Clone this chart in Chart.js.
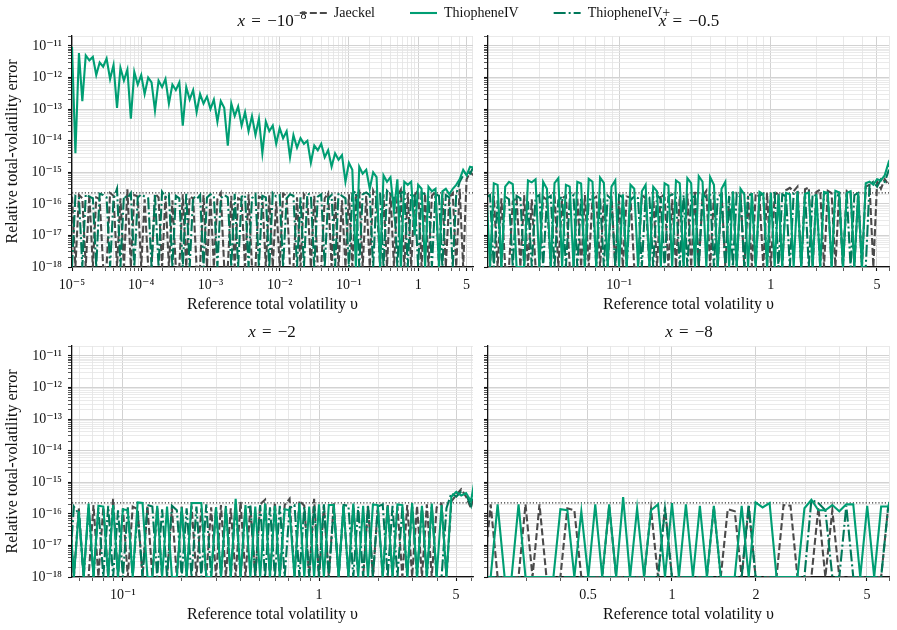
<!DOCTYPE html>
<html>
<head>
<meta charset="utf-8">
<script src="https://cdn.jsdelivr.net/npm/chart.js@4.4.1/dist/chart.umd.min.js"></script>
<style>
  body { margin: 0; background: #fff; width: 897px; height: 630px; position: relative; overflow: hidden;
         font-family: "Liberation Serif", serif; color: #111; }
  .box { position: absolute; }
  .ttl { position: absolute; font-size: 17px; line-height: 20px; transform: translateX(-50%); white-space: nowrap; word-spacing: 2px; }
  .ttl sup { font-size: 70%; line-height: 0; }
</style>
</head>
<body>
<div class="box" style="left:0;top:0;width:480px;height:320px"><canvas id="c0"></canvas></div>
<div class="box" style="left:480px;top:0;width:417px;height:320px"><canvas id="c1"></canvas></div>
<div class="box" style="left:0;top:320px;width:480px;height:310px"><canvas id="c2"></canvas></div>
<div class="box" style="left:480px;top:320px;width:417px;height:310px"><canvas id="c3"></canvas></div>
<div class="ttl" style="left:272px;top:11px"><i>x</i> = −10<sup>−8</sup></div>
<div class="ttl" style="left:689px;top:11px"><i>x</i> = −0.5</div>
<div class="ttl" style="left:272px;top:322px"><i>x</i> = −2</div>
<div class="ttl" style="left:689px;top:322px"><i>x</i> = −8</div>
<div class="box" style="left:135px;top:-29px;width:700px;height:200px;pointer-events:none"><canvas id="cleg"></canvas></div>
<script>
// ---- axes ----
const Y_MIN = 1e-18;
const Y_MAX = 2.07e-11;
const EPS = 2.22e-16;
const yTickValues = [1e-18, 1e-17, 1e-16, 1e-15, 1e-14, 1e-13, 1e-12, 1e-11];
const yTickLabels = ['10⁻¹⁸', '10⁻¹⁷', '10⁻¹⁶', '10⁻¹⁵', '10⁻¹⁴', '10⁻¹³', '10⁻¹²', '10⁻¹¹'];

const xTicks1 = [1e-5, 1e-4, 1e-3, 1e-2, 0.1, 1, 5];
const xLabels1 = ['10⁻⁵', '10⁻⁴', '10⁻³', '10⁻²', '10⁻¹', '1', '5'];
const xTicks2 = [0.1, 1, 5];
const xLabels2 = ['10⁻¹', '1', '5'];
const xTicks4 = [0.5, 1, 2, 5];
const xLabels4 = ['0.5', '1', '2', '5'];
const xMins = [1e-5, 0.0137, 0.055, 0.219];
const xMaxs = [6.2, 6.0, 6.1, 6.0];

const seriesNames = ['Jaeckel', 'ThiopheneIV', 'ThiopheneIV+'];

// ---- sample grids (reference total volatility) ----
const v1 = [
  1e-5,1.12e-5,1.26e-5,1.41e-5,1.58e-5,1.78e-5,2e-5,2.24e-5,2.51e-5,2.82e-5,3.16e-5,3.55e-5,3.98e-5,4.47e-5,5.01e-5,5.62e-5,6.31e-5,7.08e-5,7.94e-5,8.91e-5,
  1e-4,1.12e-4,1.26e-4,1.41e-4,1.58e-4,1.78e-4,2e-4,2.24e-4,2.51e-4,2.82e-4,3.16e-4,3.55e-4,3.98e-4,4.47e-4,5.01e-4,5.62e-4,6.31e-4,7.08e-4,7.94e-4,8.91e-4,
  1e-3,1.12e-3,1.26e-3,1.41e-3,1.58e-3,1.78e-3,2e-3,2.24e-3,2.51e-3,2.82e-3,3.16e-3,3.55e-3,3.98e-3,4.47e-3,5.01e-3,5.62e-3,6.31e-3,7.08e-3,7.94e-3,8.91e-3,
  0.01,0.0112,0.0126,0.0141,0.0158,0.0178,0.02,0.0224,0.0251,0.0282,0.0316,0.0355,0.0398,0.0447,0.0501,0.0562,0.0631,0.0708,0.0794,0.0891,
  0.1,0.112,0.126,0.141,0.158,0.178,0.2,0.224,0.251,0.282,0.316,0.355,0.398,0.447,0.501,0.562,0.631,0.708,0.794,0.891,
  1,1.12,1.26,1.41,1.58,1.78,2,2.24,2.51,2.82,3.16,3.55,3.98,4.47,5.01,5.62,6.31
];
const vGrid = [
  0.01334,0.01413,0.01496,0.01585,0.01679,0.01778,0.01884,0.01995,0.02113,0.02239,0.02371,0.02512,0.02661,0.02818,0.02985,0.03162,0.0335,0.03548,0.03758,0.03981,
  0.04217,0.04467,0.04732,0.05012,0.05309,0.05623,0.05957,0.0631,0.06683,0.07079,0.07499,0.07943,0.08414,0.08913,0.09441,
  0.1,0.1059,0.1122,0.1189,0.1259,0.1334,0.1413,0.1496,0.1585,0.1679,0.1778,0.1884,0.1995,0.2113,0.2239,0.2371,0.2512,0.2661,0.2818,0.2985,
  0.3162,0.335,0.3548,0.3758,0.3981,0.4217,0.4467,0.4732,0.5012,0.5309,0.5623,0.5957,0.631,0.6683,0.7079,0.7499,0.7943,0.8414,0.8913,0.9441,
  1,1.059,1.122,1.189,1.259,1.334,1.413,1.496,1.585,1.679,1.778,1.884,1.995,2.113,2.239,2.371,2.512,2.661,2.818,2.985,
  3.162,3.35,3.548,3.758,3.981,4.217,4.467,4.732,5.012,5.309,5.623,5.957,6.31
];
const v2 = vGrid;
const v3 = vGrid.slice(24);
const v4 = vGrid.slice(48);

// ---- x = -1e-8 ----
const jaeckel1 = [
  1.7e-16,0,1.9e-16,1.5e-16,0,2e-16,0,1.6e-16,1.4e-16,0,
  0,2.2e-16,1.8e-16,0,1.5e-16,0,2.9e-16,0,1.9e-16,1.7e-16,
  0,1.4e-16,0,0,2.1e-16,1.6e-16,0,1.8e-16,0,1.3e-16,
  0,0,2e-16,0,1.7e-16,1.5e-16,0,0,1.9e-16,0,
  1.6e-16,0,1.4e-16,2.2e-16,0,0,1.8e-16,0,1.5e-16,1.3e-16,
  0,2e-16,0,0,1.7e-16,1.5e-16,0,1.9e-16,0,1.2e-16,
  0,2.1e-16,1.8e-16,0,0,1.6e-16,0,2e-16,1.4e-16,0,
  1.8e-16,0,0,1.5e-16,2.2e-16,0,1.7e-16,0,1.3e-16,0,
  2e-16,0,1.6e-16,2.4e-16,0,1.8e-16,0,2.6e-16,1.5e-16,0,
  2e-16,0,2.3e-16,0,1.7e-16,2.8e-16,0,2.2e-16,0,1.9e-16,
  2.7e-16,0,2.1e-16,0,1.8e-16,2.4e-16,0,2e-16,0,1.6e-16,
  2.2e-16,0,3e-16,0,6e-16,1e-15,8e-16
];
const thio1 = [
  9.5e-12,4e-15,6e-12,1.8e-13,5e-12,3.5e-12,4.5e-12,1.2e-12,3e-12,2.2e-12,
  4e-12,9e-13,2.5e-12,1.1e-13,2e-12,8e-13,1.8e-12,5e-14,1.5e-12,6e-13,
  1.2e-12,3e-13,1e-12,7e-13,9e-14,8e-13,5e-13,9e-13,1.5e-13,6e-13,
  4e-13,7e-13,3e-14,5e-13,2e-13,4e-13,8e-14,3e-13,1.5e-13,2.5e-13,
  1e-13,2e-13,4e-14,1.8e-13,1.1e-13,7e-15,1.5e-13,6e-14,1.2e-13,3e-14,
  8e-14,2e-14,6e-14,1.5e-14,5e-14,4e-15,4e-14,2e-14,3e-14,8e-15,
  2.5e-14,1.2e-14,2e-14,3e-15,1.5e-14,6e-15,1.2e-14,8e-15,1e-14,2e-15,
  7e-15,5e-15,8e-15,3e-15,5e-15,1.5e-15,4e-15,2.5e-15,3.5e-15,5e-16,
  2e-15,1.2e-15,0,1.5e-15,9e-16,1.2e-15,3e-16,1e-15,7e-16,0,
  8e-16,5e-16,7e-16,6e-17,6e-16,0,5e-16,4e-16,5e-16,1e-17,
  4e-16,3e-16,0,3.5e-16,2.5e-16,3e-16,0,2.5e-16,3e-16,2e-16,
  3e-16,4e-16,6e-16,1.2e-15,8e-16,1.5e-15,1.4e-15
];
const thioPlus1 = [
  0,1.8e-16,1.6e-16,0,2e-16,1.7e-16,1.5e-16,0,2.1e-16,1.9e-16,
  1.6e-16,0,1.4e-16,3e-16,0,1.8e-16,1.5e-16,2.2e-16,0,1.6e-16,
  2e-16,1.7e-16,1.5e-16,0,1.9e-16,0,2.4e-16,1.6e-16,2e-16,0,
  1.8e-16,1.5e-16,0,2.1e-16,0,1.7e-16,1.4e-16,1.9e-16,0,1.6e-16,
  2e-16,1.8e-16,0,1.5e-16,1.9e-16,1.6e-16,0,2.1e-16,0,1.7e-16,
  1.9e-16,0,1.5e-16,2e-16,0,1.8e-16,1.6e-16,0,2.2e-16,1.7e-16,
  1.9e-16,0,1.5e-16,2e-16,1.8e-16,0,1.6e-16,0,2.1e-16,1.9e-16,
  0,1.7e-16,2e-16,0,1.5e-16,1.9e-16,0,2.2e-16,1.8e-16,1.5e-16,
  0,2.1e-16,2.5e-16,0,2e-16,2.3e-16,1.9e-16,0,2.4e-16,2.1e-16,
  0,2.6e-16,2e-16,1.8e-16,0,2.2e-16,2.5e-16,0,2.1e-16,1.8e-16,
  0,2.3e-16,2e-16,1.7e-16,0,2e-16,1.8e-16,0,1.9e-16,1.6e-16,
  0,2e-16,5e-16,8e-16,1.1e-15,9e-16,1.5e-15
];

// ---- x = -0.5 ----
const jaeckel2 = [
  0,0,1.8e-16,0,1.5e-16,0,0,1.2e-16,1.6e-16,0,
  1.9e-16,0,1.4e-16,0,0,1.7e-16,1.3e-16,0,2e-16,0,
  1.5e-16,1.8e-16,0,0,1.6e-16,0,1.9e-16,0,1.4e-16,1.7e-16,
  0,1.5e-16,0,1.8e-16,0,1.3e-16,0,1.7e-16,1.6e-16,0,
  0,1.9e-16,1.5e-16,0,1.8e-16,0,2e-16,1.6e-16,0,1.4e-16,
  0,1.8e-16,0,2.1e-16,0,2.4e-16,0,1.7e-16,2.6e-16,0,
  1.9e-16,0,2.3e-16,0,1.6e-16,2e-16,0,2.2e-16,0,1.8e-16,
  0,2.1e-16,1.7e-16,0,2.2e-16,0,1.9e-16,2.4e-16,0,2.7e-16,
  3.2e-16,2.5e-16,3.5e-16,0,2.9e-16,3.3e-16,0,2.4e-16,2.8e-16,0,
  2.6e-16,2.2e-16,0,2.4e-16,0,2.6e-16,2.3e-16,0,2.1e-16,0,
  3.5e-16,4e-16,0,5e-16,3e-16,6e-16,4e-16,7e-16
];
const thio2 = [
  3e-16,0,4.5e-16,4e-16,0,3.5e-16,5e-16,4.2e-16,0,0,
  0,5.5e-16,4.8e-16,6e-16,0,5e-16,3e-16,0,4.5e-16,6.5e-16,
  0,4e-16,3.5e-16,0,5e-16,4.4e-16,0,6.2e-16,5e-16,0,
  6.8e-16,4.6e-16,0,3.5e-16,5.5e-16,0,2e-16,0,4e-16,3e-16,
  0,2.5e-16,4e-16,0,3.5e-16,2.5e-16,0,4.5e-16,3.8e-16,0,
  5.5e-16,4.5e-16,0,6.5e-16,4.5e-16,0,7.5e-16,5e-16,0,7e-16,
  4e-16,0,3e-16,5e-16,0,2.5e-16,0,3e-16,2e-16,0,
  2.2e-16,0,2.4e-16,2e-16,0,2.3e-16,0,2e-16,0,2.2e-16,
  2e-16,0,2.5e-16,0,2.1e-16,2.3e-16,0,2e-16,0,2.4e-16,
  2.2e-16,0,2.6e-16,2.3e-16,0,2.2e-16,2.5e-16,0,2.1e-16,0,
  4.5e-16,5e-16,4e-16,6e-16,5.5e-16,8e-16,2e-15,9e-16
];
const thioPlus2 = [
  1.6e-16,1.9e-16,0,1.3e-16,0,1.7e-16,1.4e-16,0,1.8e-16,1.5e-16,
  0,1.2e-16,0,1.6e-16,1.9e-16,0,1.5e-16,1.8e-16,0,1.3e-16,
  1.7e-16,0,1.4e-16,1.9e-16,0,1.6e-16,0,1.2e-16,1.8e-16,0,
  1.5e-16,0,1.8e-16,1.4e-16,0,1.9e-16,1.6e-16,0,1.3e-16,1.7e-16,
  1.5e-16,0,1.8e-16,1.6e-16,0,1.9e-16,1.4e-16,0,1.7e-16,2e-16,
  1.6e-16,0,1.9e-16,0,1.5e-16,1.8e-16,0,2e-16,1.6e-16,1.9e-16,
  0,1.7e-16,2e-16,0,1.8e-16,0,2.1e-16,1.6e-16,0,1.9e-16,
  2e-16,0,1.8e-16,2.1e-16,0,1.9e-16,2.2e-16,0,2e-16,1.7e-16,
  0,2.1e-16,1.9e-16,0,2.2e-16,0,2e-16,1.8e-16,0,2.1e-16,
  2.3e-16,0,2e-16,1.8e-16,0,2.1e-16,0,1.9e-16,2.2e-16,0,
  0,4e-16,5e-16,3.5e-16,6e-16,5e-16,1.1e-15,8e-16
];

// ---- x = -2 ----
const jaeckel3 = [
  1.8e-16,0,1.5e-16,0,0,1.9e-16,0,1.6e-16,0,3e-16,
  0,1.5e-16,0,1.7e-16,1.4e-16,0,1.8e-16,0,1.6e-16,0,
  0,1.5e-16,0,1.7e-16,0,1.8e-16,0,1.5e-16,0,1.6e-16,
  0,1.9e-16,0,1.5e-16,0,2.4e-16,0,1.7e-16,0,2e-16,
  2.8e-16,0,2.3e-16,0,1.9e-16,3e-16,0,2.6e-16,1.8e-16,0,
  3e-16,0,1.8e-16,0,2.2e-16,0,1.7e-16,0,1.9e-16,0,
  0,1.8e-16,0,1.6e-16,0,2e-16,0,1.7e-16,0,1.9e-16,
  0,1.8e-16,0,2e-16,0,1.6e-16,2.1e-16,0,
  2.5e-16,4e-16,6e-16,3.5e-16,1.5e-16,1.2e-15
];
const thio3 = [
  2.4e-16,0,1.2e-16,0,2.1e-16,0,1.8e-16,1.7e-16,0,1.9e-16,
  0,1.4e-16,1.3e-16,0,2.3e-16,2.2e-16,0,0,1.8e-16,0,
  1.7e-16,0,0,1.6e-16,0,2.2e-16,2.2e-16,2.2e-16,0,0,
  1.6e-16,0,1.5e-16,0,3e-16,0,1.9e-16,0,1.7e-16,0,
  2.1e-16,0,1.8e-16,0,1.4e-16,1.3e-16,0,2.2e-16,0,1.7e-16,
  0,2e-16,0,1.9e-16,1.9e-16,0,1.8e-16,0,2.1e-16,0,
  1.8e-16,0,2e-16,1.9e-16,0,1.8e-16,0,2e-16,1.9e-16,0,
  2.2e-16,0,1.8e-16,0,2.1e-16,0,1.9e-16,0,
  3.5e-16,5e-16,3.8e-16,4.5e-16,2.5e-16,2e-15
];
const thioPlus3 = [
  0,1.7e-16,1e-16,0,1.6e-16,0,1.5e-16,0,1.8e-16,0,
  1.3e-16,0,1.6e-16,0,1.2e-16,0,1.9e-16,1.7e-16,0,1.4e-16,
  0,1.8e-16,1.3e-16,0,1.5e-16,0,1.7e-16,0,2e-16,0,
  1.6e-16,0,1.8e-16,0,2e-16,0,1.5e-16,1.7e-16,0,1.9e-16,
  0,1.6e-16,0,1.8e-16,0,1.5e-16,1.9e-16,0,1.7e-16,0,
  1.8e-16,0,2e-16,0,1.6e-16,0,1.9e-16,1.8e-16,0,1.7e-16,
  0,1.9e-16,0,1.7e-16,2e-16,0,1.8e-16,0,1.6e-16,0,
  1.9e-16,0,1.7e-16,0,1.8e-16,0,0,1.5e-16,
  4.5e-16,3.5e-16,5e-16,4e-16,1.8e-16,1.5e-15
];

// ---- x = -8 ----
const jaeckel4 = [
  0,2e-16,0,0,0,0,2e-16,0,2e-16,0,
  0,0,1.5e-16,1.3e-16,0,0,0,0,1.8e-16,0,
  0,0,0,0,1.4e-16,0,1.6e-16,0,0,0,
  0,0,0,1.7e-16,0,1.4e-16,1.2e-16,0,1.6e-16,0,
  0,0,0,1.9e-16,1.8e-16,0,0,0,1.6e-16,0,
  1.3e-16,0,0,0,0,0,0,0,1.6e-16,1.5e-16
];
const thio4 = [
  0,0,2e-16,0,0,2e-16,0,0,0,0,
  0,1.4e-16,1.3e-16,0,1.2e-16,0,2e-16,0,2e-16,0,
  3.4e-16,0,1.5e-16,0,1.3e-16,2e-16,0,2.2e-16,0,2e-16,
  0,1.8e-16,0,1.8e-16,0,0,0,1.8e-16,0,2.3e-16,
  1.6e-16,2.2e-16,0,0,0,0,1.5e-16,2.8e-16,1.3e-16,1.3e-16,
  1.9e-16,1.2e-16,2e-16,2e-16,0,1.8e-16,0,1.7e-16,1.7e-16,7e-16
];
const thioPlus4 = [
  0,0,0,0,0,0,0,0,0,0,
  0,0,0,0,0,0,0,0,0,0,
  0,0,0,0,0,0,1.4e-16,0,0,0,
  0,0,0,0,0,0,0,0,2e-16,0,
  0,0,0,0,0,0,0,2.8e-16,2.2e-16,1.3e-16,
  0,0,1.8e-16,0,0,0,0,0,1.6e-16,1.5e-16
];

// ---- styling ----
const FONT = '"Liberation Serif", "DejaVu Serif", serif';
const COL_J = '#4a4a4a';
const COL_T = '#009e73';
const COL_TP = '#00785a';
const DASH_J = [7, 3];
const DASH_TP = [12, 3, 2, 3];
const LW = 2.1;

Chart.defaults.font.family = FONT;
Chart.defaults.color = '#111';

const near = (a, b) => Math.abs(a / b - 1) < 1e-6;

function minorGrid(min, max) {
  const out = [];
  for (let n = Math.floor(Math.log10(min)); n <= Math.floor(Math.log10(max)); n++) {
    for (let m = 1; m <= 9; m++) {
      const v = m * Math.pow(10, n);
      if (v >= min * 0.9999 && v <= max * 1.0001) out.push(v);
    }
  }
  return out;
}

function yAxis(showLabels) {
  const vals = minorGrid(Y_MIN, Y_MAX);
  const isMajor = v => yTickValues.some(m => near(v, m));
  return {
    type: 'logarithmic', min: Y_MIN, max: Y_MAX,
    afterBuildTicks: a => { a.ticks = vals.map(v => ({ value: v })); },
    afterFit: a => { a.width = showLabels ? 72 : 8; },
    ticks: {
      display: showLabels, autoSkip: false, padding: 6, color: '#111',
      font: { family: FONT, size: 14 },
      callback: v => { const i = yTickValues.findIndex(m => near(v, m)); return i < 0 ? '' : yTickLabels[i]; }
    },
    grid: {
      color: c => isMajor(c.tick.value) ? '#d2d2d2' : '#e4e4e4',
      lineWidth: c => isMajor(c.tick.value) ? 1 : 0.8,
      tickLength: 4, tickColor: '#111',
      tickWidth: c => isMajor(c.tick.value) ? 1.1 : 0.7
    },
    border: { display: true, color: '#111', width: 1.3 },
    title: {
      display: showLabels, text: 'Relative total-volatility error', color: '#111',
      font: { family: FONT, size: 16 }, padding: { top: 3, bottom: 0 }
    }
  };
}

function xAxis(min, max, majors, labels) {
  const vals = minorGrid(min, max);
  majors.forEach(m => { if (!vals.some(v => near(v, m))) vals.push(m); });
  vals.sort((a, b) => a - b);
  const isMajor = v => majors.some(m => near(v, m));
  return {
    type: 'logarithmic', min, max,
    afterBuildTicks: a => { a.ticks = vals.map(v => ({ value: v })); },
    afterFit: a => { a.height = 53; },
    ticks: {
      autoSkip: false, maxRotation: 0, padding: 6, color: '#111',
      font: { family: FONT, size: 14 },
      callback: v => { const i = majors.findIndex(m => near(v, m)); return i < 0 ? '' : labels[i]; }
    },
    grid: {
      color: c => isMajor(c.tick.value) ? '#d2d2d2' : '#e2e2e2',
      lineWidth: c => isMajor(c.tick.value) ? 1 : 0.8,
      tickLength: 4, tickColor: '#111',
      tickWidth: c => isMajor(c.tick.value) ? 1.1 : 0.7
    },
    border: { display: true, color: '#111', width: 1.3 },
    title: {
      display: true, text: 'Reference total volatility υ', color: '#111',
      font: { family: FONT, size: 16 }, padding: { top: 0, bottom: 6 }
    }
  };
}

function series(label, xs, ys, color, dash, order) {
  return {
    label, order, borderColor: color, backgroundColor: color, borderDash: dash,
    borderWidth: LW, pointRadius: 0, tension: 0, fill: false,
    data: xs.map((x, i) => ({ x, y: Math.max(ys[i], Y_MIN) }))
  };
}

function epsLine(min, max) {
  return {
    label: 'eps', order: 5, borderColor: '#333', borderWidth: 1.2, borderDash: [1.2, 2],
    pointRadius: 0, fill: false, data: [{ x: min, y: EPS }, { x: max, y: EPS }]
  };
}

const panels = [
  { id: 'c0', v: v1, j: jaeckel1, t: thio1, tp: thioPlus1, ticks: xTicks1, labels: xLabels1, left: true, padTop: 36, padRight: 7 },
  { id: 'c1', v: v2, j: jaeckel2, t: thio2, tp: thioPlus2, ticks: xTicks2, labels: xLabels2, left: false, padTop: 36, padRight: 8 },
  { id: 'c2', v: v3, j: jaeckel3, t: thio3, tp: thioPlus3, ticks: xTicks2, labels: xLabels2, left: true, padTop: 26, padRight: 7 },
  { id: 'c3', v: v4, j: jaeckel4, t: thio4, tp: thioPlus4, ticks: xTicks4, labels: xLabels4, left: false, padTop: 26, padRight: 8 }
];

panels.forEach((p, k) => {
  new Chart(document.getElementById(p.id), {
    type: 'line',
    data: {
      datasets: [
        series(seriesNames[0], p.v, p.j, COL_J, DASH_J, 3),
        series(seriesNames[2], p.v, p.tp, COL_TP, DASH_TP, 2),
        series(seriesNames[1], p.v, p.t, COL_T, [], 1),
        epsLine(xMins[k], xMaxs[k])
      ]
    },
    options: {
      responsive: true, maintainAspectRatio: false, animation: false, devicePixelRatio: 1,
      events: [],
      layout: { padding: { top: p.padTop, right: p.padRight, left: 0, bottom: 0 } },
      scales: { x: xAxis(xMins[k], xMaxs[k], p.ticks, p.labels), y: yAxis(p.left) },
      plugins: { legend: { display: false }, tooltip: { enabled: false } }
    }
  });
});

// shared legend (canvas is tall so the legend box is not clipped)
new Chart(document.getElementById('cleg'), {
  type: 'line',
  data: {
    datasets: [
      { label: seriesNames[0], data: [], borderColor: COL_J, borderDash: DASH_J, borderWidth: LW },
      { label: seriesNames[1], data: [], borderColor: COL_T, borderDash: [], borderWidth: LW },
      { label: seriesNames[2], data: [], borderColor: COL_TP, borderDash: DASH_TP, borderWidth: LW }
    ]
  },
  options: {
    responsive: true, maintainAspectRatio: false, animation: false, devicePixelRatio: 1, events: [],
    scales: { x: { display: false }, y: { display: false } },
    plugins: {
      tooltip: { enabled: false },
      legend: {
        display: true, position: 'top',
        labels: {
          usePointStyle: true, pointStyle: 'line', boxWidth: 30, pointStyleWidth: 27,
          padding: 35, color: '#111', font: { family: FONT, size: 14 },
          generateLabels: chart => chart.data.datasets.map((d, i) => ({
            text: d.label, datasetIndex: i, hidden: false, pointStyle: 'line',
            strokeStyle: d.borderColor, fillStyle: d.borderColor, fontColor: '#111',
            lineWidth: d.borderWidth, lineDash: d.borderDash
          }))
        }
      }
    }
  }
});
</script>
</body>
</html>
